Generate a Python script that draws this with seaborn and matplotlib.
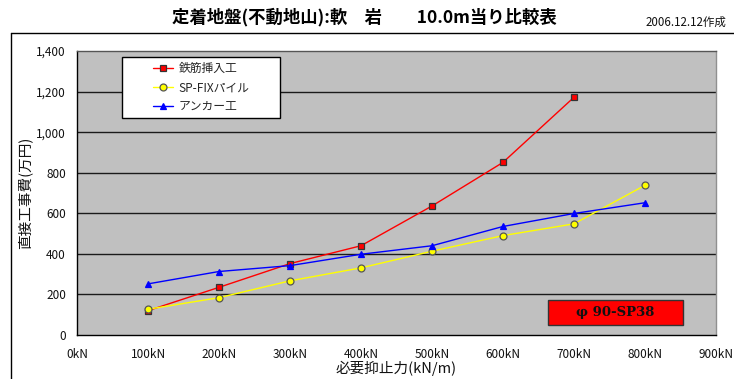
import matplotlib
matplotlib.use("Agg")
import matplotlib.pyplot as plt
from matplotlib.lines import Line2D
from matplotlib.patches import Rectangle
from matplotlib.offsetbox import DrawingArea, HPacker
import seaborn as sns
import pandas as pd

# Required restraining force (kN/m) and direct construction cost (10,000 yen)
force_kn = [100, 200, 300, 400, 500, 600, 700, 800]
rebar_cost = [120, 235, 352, 440, 636, 851, 1172]          # 鉄筋挿入工
spfix_cost = [127, 184, 267, 331, 413, 490, 548, 738]      # SP-FIXパイル
anchor_cost = [252, 313, 342, 398, 440, 535, 599, 652]     # アンカー工

series_names = ["鉄筋挿入工", "SP-FIXパイル", "アンカー工"]
x_ticks = [0, 100, 200, 300, 400, 500, 600, 700, 800, 900]
y_ticks = [0, 200, 400, 600, 800, 1000, 1200, 1400]

title_text = "定着地盤(不動地山):軟\u3000岩\u3000\u300010.0m当り比較表"
date_text = "2006.12.12作成"
x_label = "必要抑止力(kN/m)"
y_label = "直接工事費(万円)"
badge_text = "φ 90-SP38"

sns.set_theme(style="white")
plt.rcParams["font.family"] = ["Noto Sans CJK JP", "DejaVu Sans"]

rows = []
for name, vals in zip(series_names, [rebar_cost, spfix_cost, anchor_cost]):
    for f, v in zip(force_kn, vals):
        rows.append({"force": f, "cost": v, "series": name})
df = pd.DataFrame(rows)

W, H = 734, 379
L, R, T, B = 77, 716, 51, 335
fig = plt.figure(figsize=(W / 100, H / 100), dpi=100)
fig.patch.set_facecolor("white")
ax = fig.add_axes([L / W, 1 - B / H, (R - L) / W, (B - T) / H])
ax.set_facecolor("#C0C0C0")

styles = {
    "鉄筋挿入工": dict(color="#FF0000", marker="s", mfc="#FF0000", mec="#333333", ms=5.0),
    "SP-FIXパイル": dict(color="#FFFF00", marker="o", mfc="#FFFF00", mec="#555555", ms=5.0),
    "アンカー工": dict(color="#0000FF", marker="^", mfc="#0000FF", mec="#0000FF", ms=5.0),
}

for name in series_names:
    st = styles[name]
    sub = df[df["series"] == name]
    sns.lineplot(data=sub, x="force", y="cost", ax=ax, color=st["color"],
                 marker=st["marker"], markerfacecolor=st["mfc"],
                 markeredgecolor=st["mec"], markersize=st["ms"],
                 markeredgewidth=0.9, linewidth=1.0, label=name, zorder=3)

ax.set_xlim(0, 900)
ax.set_ylim(0, 1400)
ax.set_xticks(x_ticks)
ax.set_xticklabels([f"{v}kN" for v in x_ticks])
ax.set_yticks(y_ticks)
ax.set_yticklabels([f"{v:,}" for v in y_ticks])
for v in y_ticks[1:-1]:
    ax.axhline(v, color="#1a1a1a", linewidth=1.0, zorder=1)

ax.tick_params(axis="both", direction="in", length=3, width=0.8, color="black",
               labelsize=8.5, labelcolor="#111111")
ax.tick_params(axis="x", pad=9)
ax.tick_params(axis="y", pad=8)

for side in ["left", "bottom"]:
    ax.spines[side].set_color("black")
    ax.spines[side].set_linewidth(1.0)
ax.spines["top"].set_color("#555555")
ax.spines["top"].set_linewidth(1.0)
ax.spines["right"].set_color("#909090")
ax.spines["right"].set_linewidth(1.0)

ax.set_xlabel(x_label, fontsize=10.5, labelpad=0, color="#111111")
ax.set_ylabel(y_label, fontsize=10.5, labelpad=3, color="#111111")

# legend box stretched to its panel width
lx0 = (122 - L) / (R - L)
lw = (280 - 122) / (R - L)
ly1 = (B - 57) / (B - T)
leg = ax.legend(loc="upper left", bbox_to_anchor=(lx0, ly1 - 0.3, lw, 0.3),
                mode="expand", frameon=True, fancybox=False, fontsize=8.5,
                handlelength=1.7, labelspacing=0.5, borderpad=0.45,
                handletextpad=0.5, borderaxespad=0)
leg.get_frame().set_edgecolor("black")
leg.get_frame().set_linewidth(1.0)
leg.get_frame().set_facecolor("white")
leg.get_frame().set_alpha(1.0)
# indent each legend entry
for column in leg._legend_handle_box.get_children():
    for entry in column.get_children():
        if isinstance(entry, HPacker):
            entry._children.insert(0, DrawingArea(14, 1))

# specification badge
bx0, bx1 = (548 - L) / (R - L), (683 - L) / (R - L)
by0, by1 = (B - 325) / (B - T), (B - 300) / (B - T)
ax.add_patch(Rectangle((bx0, by0), bx1 - bx0, by1 - by0, transform=ax.transAxes,
                       facecolor="#FF0000", edgecolor="#333333", linewidth=1.0, zorder=5))
ax.text((bx0 + bx1) / 2, (by0 + by1) / 2, badge_text, transform=ax.transAxes,
        ha="center", va="center", fontsize=9.5, fontweight="bold", color="#111111",
        family=["DejaVu Serif"], zorder=6)

fig.text(364 / W, 1 - 17 / H, title_text, ha="center", va="center",
         fontsize=12.5, fontweight="bold", color="black")
fig.text(646 / W, 1 - 22 / H, date_text, ha="left", va="center",
         fontsize=8.3, color="#111111")

# outer chart frame (top and left edges)
fig.add_artist(Line2D([11 / W, 11 / W], [0, 1 - 33 / H], transform=fig.transFigure,
                      color="black", linewidth=1.0))
fig.add_artist(Line2D([11 / W, 1], [1 - 33 / H, 1 - 33 / H], transform=fig.transFigure,
                      color="black", linewidth=1.0))

fig.savefig("out.png", dpi=100, facecolor="white")
